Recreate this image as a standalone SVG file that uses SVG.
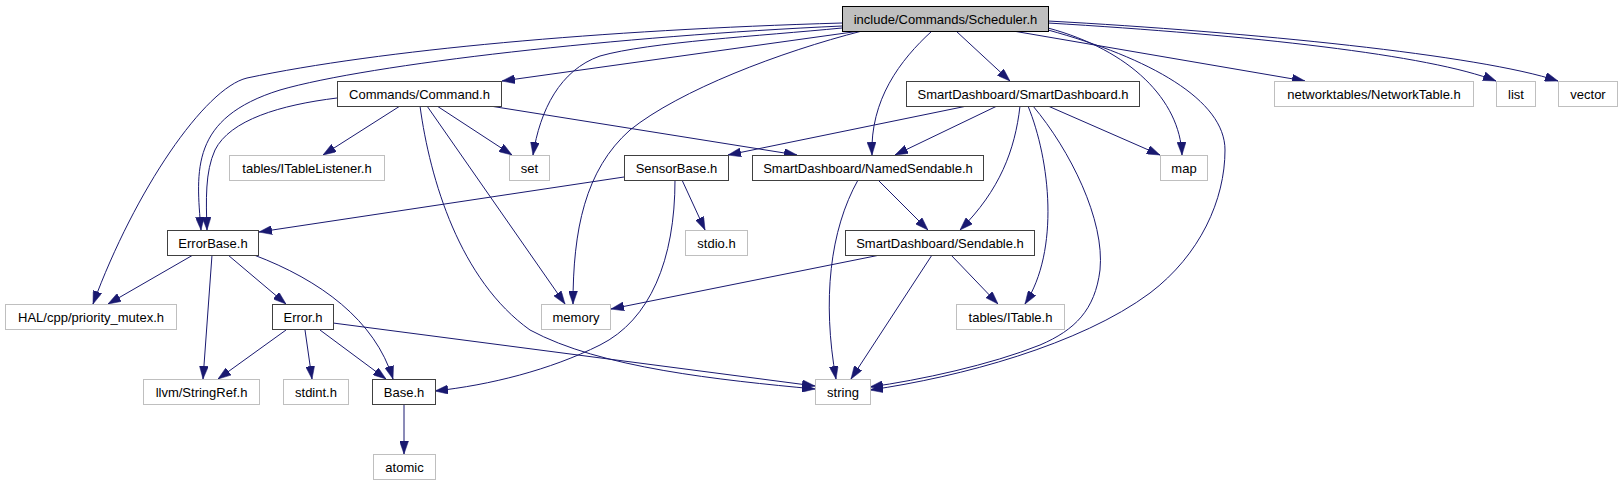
<svg xmlns="http://www.w3.org/2000/svg" width="1623" height="485" viewBox="0 0 1623 485">
<style>
.n rect{stroke:#404040;stroke-width:1;fill:#ffffff}
.n.root rect{fill:#bfbfbf;stroke:#000000}
.n.ext rect{stroke:#bfbfbf}
.n text{font-family:"Liberation Sans",Arial,Helvetica,sans-serif;font-size:13px;fill:#000000;text-anchor:middle}
#edges path{fill:none;stroke:#191970;stroke-width:1;marker-end:url(#ah)}
</style>
<defs>
<marker id="ah" markerUnits="userSpaceOnUse" markerWidth="13" markerHeight="9" viewBox="0 0 13 9" refX="13" refY="4.5" orient="auto">
<path d="M0,0 L13,4.5 L0,9 z" fill="#191970" stroke="#191970" stroke-width="0.5"/>
</marker>
</defs>
<rect width="1623" height="485" fill="#ffffff"/>
<g id="edges">
<path d="M842,23 C 600,30 380,50 247,78 C 205,88 135,190 93,304"/>
<path d="M842,26 C 620,36 370,64 280,90 C 190,118 196,170 201,230"/>
<path d="M860,31 L502,81"/>
<path d="M842,28 C 760,36 650,42 600,56 C 560,70 540,110 533,155"/>
<path d="M862,31 C 780,52 680,90 630,130 C 585,170 573,230 573,304"/>
<path d="M932,31 C 900,60 870,100 872,155"/>
<path d="M956,31 L1010,81"/>
<path d="M1048,28 C 1130,50 1180,100 1182,155"/>
<path d="M1048,30 C 1150,58 1225,100 1225,150 C 1225,200 1200,255 1150,293 C 1080,345 960,377 870,390"/>
<path d="M1013,31 L1305,81"/>
<path d="M1048,23 C 1250,35 1430,55 1496,81"/>
<path d="M1048,21 C 1250,32 1480,55 1558,81"/>
<path d="M337,98 C 280,105 230,120 215,150 C 205,172 206,200 207,230"/>
<path d="M400,106 L323,155"/>
<path d="M437,106 L512,155"/>
<path d="M427,106 L565,304"/>
<path d="M420,106 C 430,180 460,280 530,330 C 600,368 720,380 815,389"/>
<path d="M490,106 L797,155"/>
<path d="M967,106 L728,155"/>
<path d="M997,106 L895,155"/>
<path d="M1020,106 C 1015,150 1000,190 960,230"/>
<path d="M1028,106 C 1050,160 1060,250 1025,304"/>
<path d="M1033,106 C 1070,150 1105,220 1100,270 C 1095,310 1075,330 1040,345 C 990,365 920,380 870,387"/>
<path d="M1048,106 L1160,155"/>
<path d="M624,177 L259,232"/>
<path d="M682,180 L705,230"/>
<path d="M675,180 C 675,260 650,320 600,345 C 550,370 490,385 435,391"/>
<path d="M878,180 L928,230"/>
<path d="M858,180 C 830,230 822,300 836,379"/>
<path d="M880,255 L611,309"/>
<path d="M932,255 L851,379"/>
<path d="M951,255 L998,304"/>
<path d="M193,255 L108,304"/>
<path d="M212,255 L203,379"/>
<path d="M228,255 L286,304"/>
<path d="M254,255 C 320,280 375,320 393,379"/>
<path d="M286,330 L218,379"/>
<path d="M305,330 L312,379"/>
<path d="M320,330 L386,379"/>
<path d="M333,323 L815,386"/>
<path d="M404,404 L404,454"/>
</g>
<g id="n_scheduler" class="n root"><rect x="842.5" y="6.5" width="206" height="25"/><text x="945.5" y="23.5">include/Commands/Scheduler.h</text></g>
<g id="n_command" class="n"><rect x="337.5" y="81.5" width="164" height="25"/><text x="419.5" y="98.5">Commands/Command.h</text></g>
<g id="n_smartdashboard" class="n"><rect x="906.5" y="81.5" width="233" height="25"/><text x="1023" y="98.5">SmartDashboard/SmartDashboard.h</text></g>
<g id="n_networktable" class="n ext"><rect x="1274.5" y="81.5" width="199" height="25"/><text x="1374" y="98.5">networktables/NetworkTable.h</text></g>
<g id="n_list" class="n ext"><rect x="1496.5" y="81.5" width="39" height="25"/><text x="1516" y="98.5">list</text></g>
<g id="n_vector" class="n ext"><rect x="1558.5" y="81.5" width="59" height="25"/><text x="1588" y="98.5">vector</text></g>
<g id="n_itablelistener" class="n ext"><rect x="229.5" y="155.5" width="155" height="25"/><text x="307" y="172.5">tables/ITableListener.h</text></g>
<g id="n_set" class="n ext"><rect x="509.5" y="155.5" width="40" height="25"/><text x="529.5" y="172.5">set</text></g>
<g id="n_sensorbase" class="n"><rect x="624.5" y="155.5" width="104" height="25"/><text x="676.5" y="172.5">SensorBase.h</text></g>
<g id="n_namedsendable" class="n"><rect x="752.5" y="155.5" width="231" height="25"/><text x="868" y="172.5">SmartDashboard/NamedSendable.h</text></g>
<g id="n_map" class="n ext"><rect x="1160.5" y="155.5" width="47" height="25"/><text x="1184" y="172.5">map</text></g>
<g id="n_errorbase" class="n"><rect x="167.5" y="230.5" width="91" height="25"/><text x="213" y="247.5">ErrorBase.h</text></g>
<g id="n_stdio" class="n ext"><rect x="685.5" y="230.5" width="62" height="25"/><text x="716.5" y="247.5">stdio.h</text></g>
<g id="n_sendable" class="n"><rect x="845.5" y="230.5" width="189" height="25"/><text x="940" y="247.5">SmartDashboard/Sendable.h</text></g>
<g id="n_hal" class="n ext"><rect x="5.5" y="304.5" width="171" height="25"/><text x="91" y="321.5">HAL/cpp/priority_mutex.h</text></g>
<g id="n_error" class="n"><rect x="272.5" y="304.5" width="61" height="25"/><text x="303" y="321.5">Error.h</text></g>
<g id="n_memory" class="n ext"><rect x="541.5" y="304.5" width="69" height="25"/><text x="576" y="321.5">memory</text></g>
<g id="n_itable" class="n ext"><rect x="956.5" y="304.5" width="108" height="25"/><text x="1010.5" y="321.5">tables/ITable.h</text></g>
<g id="n_stringref" class="n ext"><rect x="143.5" y="379.5" width="116" height="25"/><text x="201.5" y="396.5">llvm/StringRef.h</text></g>
<g id="n_stdint" class="n ext"><rect x="283.5" y="379.5" width="65" height="25"/><text x="316" y="396.5">stdint.h</text></g>
<g id="n_base" class="n"><rect x="372.5" y="379.5" width="63" height="25"/><text x="404" y="396.5">Base.h</text></g>
<g id="n_string" class="n ext"><rect x="815.5" y="379.5" width="55" height="25"/><text x="843" y="396.5">string</text></g>
<g id="n_atomic" class="n ext"><rect x="373.5" y="454.5" width="62" height="25"/><text x="404.5" y="471.5">atomic</text></g>
</svg>
